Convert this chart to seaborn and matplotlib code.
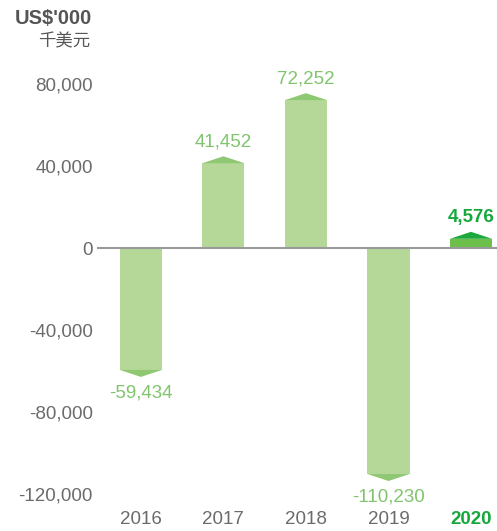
import matplotlib
matplotlib.use("Agg")
import matplotlib.pyplot as plt
import seaborn as sns
import pandas as pd

years = ["2016", "2017", "2018", "2019", "2020"]
values = [-59434, 41452, 72252, -110230, 4576]
labels = ["-59,434", "41,452", "72,252", "-110,230", "4,576"]
yticks = [80000, 40000, 0, -40000, -80000, -120000]
ytick_labels = ["80,000", "40,000", "0", "-40,000", "-80,000", "-120,000"]

bar_colors = ["#b5d898", "#b5d898", "#b5d898", "#b5d898", "#6cc04a"]
cap_colors = ["#8fc873", "#8fc873", "#8fc873", "#8fc873", "#1da83e"]
label_colors = ["#80c56e", "#80c56e", "#80c56e", "#80c56e", "#17a83c"]
grey = "#6b6b6b"

sns.set_style("white")
plt.rcParams["font.family"] = ["Liberation Sans", "Noto Sans CJK SC", "DejaVu Sans"]

df = pd.DataFrame({"year": years, "value": values})

fig = plt.figure(figsize=(4.97, 5.31), dpi=100)
ax = fig.add_axes([0.195, 0.0395, 0.805, 0.847])

sns.barplot(data=df, x="year", y="value", hue="year", palette=bar_colors,
            width=0.51, legend=False, ax=ax, saturation=1, linewidth=0)

cap = 3400
for i, p in enumerate(ax.patches[:len(values)]):
    x0 = p.get_x()
    w = p.get_width()
    v = values[i]
    sign = 1 if v >= 0 else -1
    ax.fill([x0, x0 + w, x0 + w / 2], [v, v, v + sign * cap],
            color=cap_colors[i], lw=0, zorder=3, clip_on=False)
    bold = i == len(values) - 1
    if v >= 0:
        ax.text(x0 + w / 2, v + cap + 2800, labels[i], ha="center", va="bottom",
                fontsize=13.5, color=label_colors[i],
                fontweight="bold" if bold else "normal")
    else:
        ax.text(x0 + w / 2, v - cap - 3500, labels[i], ha="center", va="top",
                fontsize=13.5, color=label_colors[i])

ax.axhline(0, color="#9a9a9a", lw=1.5, zorder=4)
ax.set_xlim(-0.533, 4.315)
ax.set_ylim(-127800, 91700)
ax.set_yticks(yticks)
ax.set_yticklabels(ytick_labels)
ax.tick_params(axis="both", length=0, labelsize=13.5, labelcolor=grey)
ax.tick_params(axis="y", pad=3)
ax.tick_params(axis="x", pad=1)
for t in ax.get_xticklabels():
    if t.get_text() == "2020":
        t.set_color("#17a83c")
        t.set_fontweight("bold")
ax.set_xlabel("")
ax.set_ylabel("")
for s in ax.spines.values():
    s.set_visible(False)
ax.patch.set_alpha(0)

fig.text(0.186, 0.966, "US$'000", ha="right", va="center", fontsize=14.5,
         fontweight="bold", color="#555555")
fig.text(0.182, 0.922, "千美元", ha="right", va="center", fontsize=12.5,
         color="#555555", family=["Noto Sans CJK SC", "DejaVu Sans"])

fig.savefig("out.png", dpi=100)
